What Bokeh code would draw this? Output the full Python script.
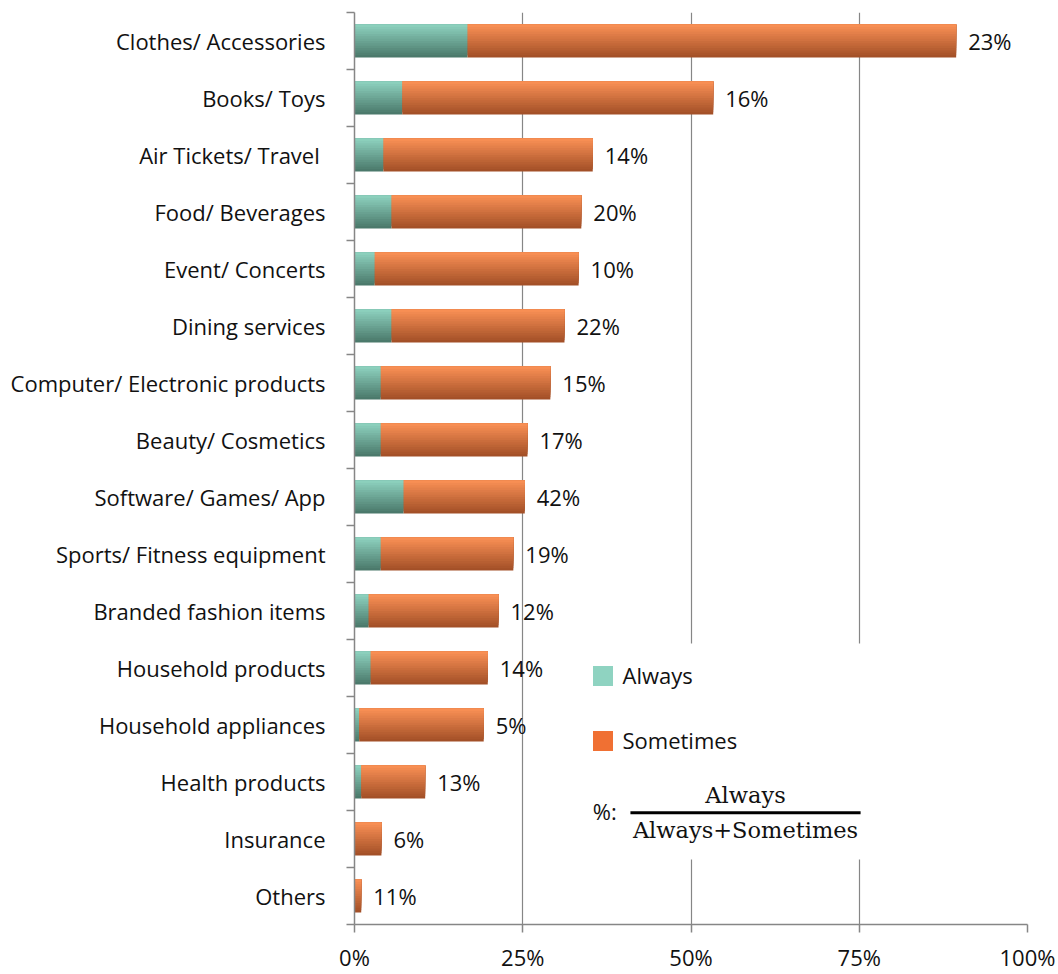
from bokeh.plotting import figure
from bokeh.models import (Range1d, FixedTicker, Legend, LegendItem, BoxAnnotation,
                          Label, ColumnDataSource, PrintfTickFormatter)
from bokeh.core.properties import value
from bokeh.embed import file_html
from bokeh.resources import INLINE

# ---------------- data ----------------
categories = ["Clothes/ Accessories", "Books/ Toys", "Air Tickets/ Travel ", "Food/ Beverages",
              "Event/ Concerts", "Dining services", "Computer/ Electronic products",
              "Beauty/ Cosmetics", "Software/ Games/ App", "Sports/ Fitness equipment",
              "Branded fashion items", "Household products", "Household appliances",
              "Health products", "Insurance", "Others"]
always = [16.8, 7.1, 4.3, 5.5, 3.0, 5.5, 3.9, 3.9, 7.3, 3.9, 2.1, 2.4, 0.7, 1.0, 0.0, 0.0]
sometimes = [72.6, 46.2, 31.1, 28.2, 30.3, 25.7, 25.2, 21.8, 18.0, 19.7, 19.3, 17.4, 18.5, 9.5, 4.0, 1.0]
share_labels = ["23%", "16%", "14%", "20%", "10%", "22%", "15%", "17%", "42%", "19%",
                "12%", "14%", "5%", "13%", "6%", "11%"]
x_ticks = [0, 25, 50, 75, 100]

# ---------------- derived ----------------
n = len(categories)
y_pos = [n - 0.5 - i for i in range(n)]
total = [a + s for a, s in zip(always, sometimes)]

FONT = "Open Sans"
GRAY = "#868686"
TXT = "#111111"

p = figure(width=1058, height=974, x_range=Range1d(0, 100), y_range=Range1d(0, n),
           output_backend="svg", toolbar_location=None,
           min_border_left=354, min_border_right=31, min_border_top=12, min_border_bottom=47)
p.outline_line_color = None
p.background_fill_color = "white"

# gradient bars as stacked strips
src = ColumnDataSource(dict(y=y_pos, a0=[0] * n, a1=always, s1=total, lab=share_labels))
BAR_H = 0.58
NS = 14


def mix(c1, c2, t):
    return "#%02x%02x%02x" % tuple(int(round(a + (b - a) * t)) for a, b in zip(c1, c2))


always_top, always_bot = (143, 211, 192), (72, 118, 104)
some_top, some_bot = (251, 145, 86), (160, 78, 38)

for k in reversed(range(NS)):
    hk = (k + 1) / NS * BAR_H
    off = BAR_H / 2 - hk / 2
    t = (k + 0.5) / NS
    ys = [y + off for y in y_pos]
    s = ColumnDataSource(dict(y=ys, a0=[0] * n, a1=always, s1=total))
    p.hbar(y="y", left="a0", right="a1", height=hk, source=s,
           fill_color=mix(always_top, always_bot, t), line_color=None)
    p.hbar(y="y", left="a1", right="s1", height=hk, source=s,
           fill_color=mix(some_top, some_bot, t), line_color=None)

# value labels
p.text(x="s1", y="y", text="lab", source=src, x_offset=12, text_baseline="middle",
       text_align="left", text_font=value(FONT), text_font_size="22px", text_color=TXT)

# axes
p.xaxis.ticker = FixedTicker(ticks=x_ticks, minor_ticks=[])
p.xaxis.formatter = PrintfTickFormatter(format="%d%%")
p.xaxis.major_tick_out = 8
p.xaxis.major_tick_in = 0
p.xaxis.major_tick_line_color = GRAY
p.xaxis.major_tick_line_width = 1.5
p.xaxis.minor_tick_line_color = None
p.xaxis.axis_line_color = GRAY
p.xaxis.axis_line_width = 1.5
p.xaxis.major_label_standoff = 9
p.xaxis.major_label_text_font = FONT
p.xaxis.major_label_text_font_size = "22px"
p.xaxis.major_label_text_color = TXT

p.yaxis.ticker = FixedTicker(ticks=y_pos, minor_ticks=list(range(n + 1)))
p.yaxis.major_label_overrides = {y: c for y, c in zip(y_pos, categories)}
p.yaxis.major_tick_line_color = None
p.yaxis.major_tick_out = 0
p.yaxis.major_tick_in = 0
p.yaxis.minor_tick_line_color = GRAY
p.yaxis.minor_tick_line_width = 1.5
p.yaxis.minor_tick_out = 8
p.yaxis.minor_tick_in = 0
p.yaxis.axis_line_color = GRAY
p.yaxis.axis_line_width = 1.5
p.yaxis.major_label_standoff = 21
p.yaxis.major_label_text_font = FONT
p.yaxis.major_label_text_font_size = "22px"
p.yaxis.major_label_text_color = TXT

p.xgrid.ticker = FixedTicker(ticks=x_ticks, minor_ticks=[])
p.xgrid.grid_line_color = GRAY
p.xgrid.grid_line_width = 1.2
p.ygrid.grid_line_color = None

# white legend area covering grid lines
p.add_layout(BoxAnnotation(left=33.0, right=76.4, top=4.93, bottom=1.14,
                           fill_color="white", fill_alpha=1.0, line_color=None))

# legend with hidden proxy renderers (same data, flat legend colours)
ra = p.hbar(y="y", left="a0", right="a1", height=BAR_H, source=src,
            fill_color="#8FD3C1", line_color=None, visible=False)
rs = p.hbar(y="y", left="a1", right="s1", height=BAR_H, source=src,
            fill_color="#F07033", line_color=None, visible=False)
legend = Legend(items=[LegendItem(label="Always", renderers=[ra]),
                       LegendItem(label="Sometimes", renderers=[rs])],
                location=(235.5, 169), orientation="vertical",
                glyph_width=25, glyph_height=25, label_height=20, spacing=35,
                padding=0, margin=0, border_line_color=None, background_fill_alpha=0,
                label_text_font=FONT, label_text_font_size="22px", label_text_color=TXT,
                label_standoff=8)
p.add_layout(legend)

# formula
p.add_layout(Label(x=35.4, y=1.99, text="%:", text_baseline="middle", text_align="left",
                   text_font=FONT, text_font_size="22px", text_color=TXT))
p.add_layout(Label(x=58.1, y=2.27, text="Always", text_baseline="middle", text_align="center",
                   text_font="DejaVu Serif", text_font_size="22.5px", text_color=TXT))
p.add_layout(BoxAnnotation(left=41.0, right=75.2, top=1.985, bottom=1.935,
                           fill_color="black", fill_alpha=1.0, line_color=None))
p.add_layout(Label(x=58.1, y=1.66, text="Always+Sometimes", text_baseline="middle",
                   text_align="center", text_font="DejaVu Serif", text_font_size="22.5px",
                   text_color=TXT))

open("out.html", "w").write(file_html(p, INLINE))
